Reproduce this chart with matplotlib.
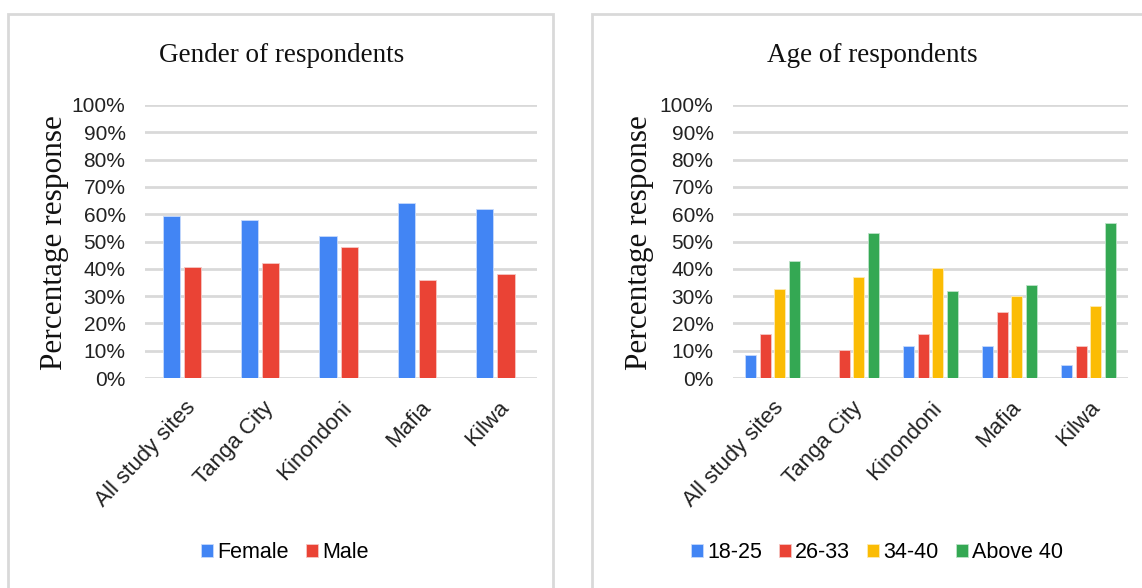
import matplotlib
matplotlib.use('Agg')
import matplotlib.pyplot as plt
from matplotlib.patches import Rectangle
import numpy as np

sites = ['All study sites', 'Tanga City', 'Kinondoni', 'Mafia', 'Kilwa']

# gender split, percent
female = [59.5, 58, 52, 64, 62]
male = [40.5, 42, 48, 36, 38]

# age groups, percent
age_18_25 = [8.4, 0, 11.7, 11.7, 4.6]
age_26_33 = [16, 10.2, 16, 24, 11.7]
age_34_40 = [32.7, 36.9, 40.2, 30.2, 26.4]
age_above40 = [43, 53, 32, 34, 56.8]

BLUE, RED, YELLOW, GREEN = '#4285f4', '#ea4335', '#fbbc04', '#34a853'
GRID = '#d9d9d9'
SANS = 'Liberation Sans'
SERIF = 'Liberation Serif'

W, H = 1142, 588
fig = plt.figure(figsize=(W / 100, H / 100), dpi=100)

def px(x, y):
    return x / W, 1 - y / H

# panel frames
for x0, x1 in [(8, 553), (592, 1160)]:
    fig.add_artist(Rectangle(px(x0, 620), (x1 - x0) / W, (620 - 14) / H,
                             transform=fig.transFigure, fill=False,
                             edgecolor=GRID, linewidth=2))

def style_axis(ax):
    ax.set_ylim(0, 100)
    ax.set_yticks(np.arange(0, 101, 10))
    ax.set_yticklabels([f'{v}%' for v in range(0, 101, 10)],
                       fontsize=15, family=SANS, color='#222222')
    ax.yaxis.grid(True, color=GRID, linewidth=2)
    ax.set_axisbelow(True)
    for s in ax.spines.values():
        s.set_visible(False)
    ax.tick_params(axis='both', length=0)
    ax.tick_params(axis='y', pad=14)
    ax.set_xlim(-0.5, len(sites) - 0.5)
    ax.set_xticks(range(len(sites)))
    ax.set_xticklabels(sites, rotation=47, ha='right', rotation_mode='anchor',
                       fontsize=16, family=SANS, color='#222222')
    ax.tick_params(axis='x', pad=14)

x = np.arange(len(sites))

# gender chart
ax1 = fig.add_axes([145 / W, 1 - 378 / H, 392 / W, 273 / H])
bw = 0.22
h1 = ax1.bar(x - 0.025 - bw / 2 - 0.03, female, bw, color=BLUE, edgecolor='#c6dafc', linewidth=0.6, label='Female')
h2 = ax1.bar(x + 0.025 + bw / 2 - 0.03, male, bw, color=RED, edgecolor='#f6c7c3', linewidth=0.6, label='Male')
style_axis(ax1)
fig.text(*px(282, 55), 'Gender of respondents', ha='center', va='center',
         fontsize=19.5, family=SERIF, color='#111111')
fig.text(*px(55, 243), 'Percentage response', ha='center', va='center',
         rotation=90, fontsize=22.5, family=SERIF, color='#111111')
fig.legend(handles=[h1, h2], loc='center', bbox_to_anchor=px(285, 553),
           ncol=2, frameon=False, prop={'family': SANS, 'size': 15.5},
           handlelength=0.55, handleheight=0.55, handletextpad=0.2,
           columnspacing=0.8)

# age chart
ax2 = fig.add_axes([733 / W, 1 - 378 / H, 395 / W, 273 / H])
bw2 = 0.143
pitch = 0.185
ages = [(age_18_25, BLUE, '#c6dafc', '18-25'),
        (age_26_33, RED, '#f6c7c3', '26-33'),
        (age_34_40, YELLOW, '#feebb4', '34-40'),
        (age_above40, GREEN, '#bde3c9', 'Above 40')]
handles = []
for i, (vals, col, edge, lab) in enumerate(ages):
    hb = ax2.bar(x + (i - 1.5) * pitch, vals, bw2, color=col,
                 edgecolor=edge, linewidth=0.6, label=lab)
    handles.append(hb)
style_axis(ax2)
fig.text(*px(872, 55), 'Age of respondents', ha='center', va='center',
         fontsize=19.5, family=SERIF, color='#111111')
fig.text(*px(640, 243), 'Percentage response', ha='center', va='center',
         rotation=90, fontsize=22.5, family=SERIF, color='#111111')
fig.legend(handles=handles, loc='center', bbox_to_anchor=px(877, 553),
           ncol=4, frameon=False, prop={'family': SANS, 'size': 15.5},
           handlelength=0.55, handleheight=0.55, handletextpad=0.2,
           columnspacing=0.8)

fig.savefig('out.png', dpi=100, facecolor='white')
